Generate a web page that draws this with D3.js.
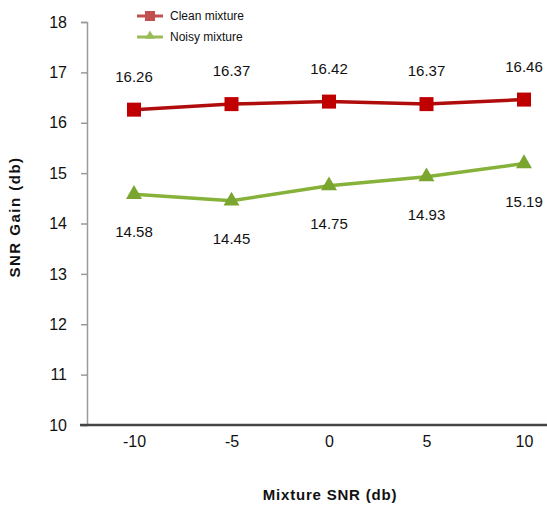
<!DOCTYPE html>
<html>
<head>
<meta charset="utf-8">
<script src="https://cdn.jsdelivr.net/npm/d3@7"></script>
<style>
  html, body { margin: 0; padding: 0; background: #fff; }
  svg { display: block; }
  text { font-family: "Liberation Sans Narrow", "Liberation Sans", Arial, sans-serif; fill: #111; }
</style>
</head>
<body>
<svg id="chart" width="547" height="508"></svg>
<script>
// Mixture SNR levels (db) along the x axis
const mixtureSnr = ["-10", "-5", "0", "5", "10"];
// SNR gain (db) for each mixture type
const cleanGain = [16.26, 16.37, 16.42, 16.37, 16.46];
const noisyGain = [14.58, 14.45, 14.75, 14.93, 15.19];
const yTicks = [10, 11, 12, 13, 14, 15, 16, 17, 18];
const seriesNames = ["Clean mixture", "Noisy mixture"];

const svg = d3.select("#chart");

const x = d3.scalePoint().domain(mixtureSnr).range([134, 524]);
const y = d3.scaleLinear().domain([10, 18]).range([425, 22]);

// y axis
const yAxis = svg.append("g").attr("transform", "translate(87,0)")
  .call(d3.axisLeft(y).tickValues(yTicks).tickSize(6).tickPadding(14).tickFormat(d3.format("d")));
yAxis.select(".domain").attr("stroke", "#9a9a9a").attr("stroke-width", 1.5);
yAxis.selectAll(".tick line").attr("stroke", "#9a9a9a").attr("stroke-width", 1.5);
yAxis.selectAll(".tick text").attr("font-size", 16).attr("fill", "#222");

// x axis
const xAxis = svg.append("g").attr("transform", "translate(0,425)")
  .call(d3.axisBottom(x).tickSize(0).tickPadding(11));
xAxis.select(".domain").remove();
svg.append("line").attr("x1", 80).attr("x2", 547).attr("y1", 425).attr("y2", 425)
  .attr("stroke", "#444").attr("stroke-width", 2.5);
xAxis.selectAll(".tick text").attr("font-size", 16).attr("fill", "#222");

// axis titles
svg.append("text").attr("x", 330).attr("y", 500).attr("text-anchor", "middle")
  .attr("font-size", 15).attr("font-weight", "bold").attr("letter-spacing", 0.8)
  .text("Mixture SNR (db)");
svg.append("text").attr("transform", "translate(20,217) rotate(-90)").attr("text-anchor", "middle")
  .attr("font-size", 15).attr("font-weight", "bold").attr("letter-spacing", 1.5)
  .text("SNR Gain (db)");

const line = d3.line().x((d, i) => x(mixtureSnr[i])).y(d => y(d));

// clean mixture series
const red = "#b00c0c";
svg.append("path").datum(cleanGain).attr("d", line)
  .attr("fill", "none").attr("stroke", red).attr("stroke-width", 3.5);
svg.selectAll(".clean-pt").data(cleanGain).enter().append("rect")
  .attr("x", (d, i) => x(mixtureSnr[i]) - 7).attr("y", d => y(d) - 7)
  .attr("width", 14).attr("height", 14).attr("fill", "#c00000");
svg.selectAll(".clean-lbl").data(cleanGain).enter().append("text")
  .attr("x", (d, i) => x(mixtureSnr[i])).attr("y", d => y(d) - 28)
  .attr("text-anchor", "middle").attr("font-size", 15).text(d => d.toFixed(2));

// noisy mixture series
const green = "#86b23a";
svg.append("path").datum(noisyGain).attr("d", line)
  .attr("fill", "none").attr("stroke", green).attr("stroke-width", 3.5);
svg.selectAll(".noisy-pt").data(noisyGain).enter().append("path")
  .attr("transform", (d, i) => `translate(${x(mixtureSnr[i])},${y(d)})`)
  .attr("d", d3.symbol(d3.symbolTriangle, 110)).attr("fill", "#7aa52e");
svg.selectAll(".noisy-lbl").data(noisyGain).enter().append("text")
  .attr("x", (d, i) => x(mixtureSnr[i])).attr("y", d => y(d) + 43)
  .attr("text-anchor", "middle").attr("font-size", 15).text(d => d.toFixed(2));

// legend
const legend = svg.append("g");
legend.append("line").attr("x1", 137).attr("x2", 163).attr("y1", 16).attr("y2", 16)
  .attr("stroke", "#c0504d").attr("stroke-width", 3);
legend.append("rect").attr("x", 145).attr("y", 11).attr("width", 10).attr("height", 10).attr("fill", "#c0504d");
legend.append("line").attr("x1", 137).attr("x2", 163).attr("y1", 37).attr("y2", 37)
  .attr("stroke", "#9bbb59").attr("stroke-width", 3);
legend.append("path").attr("transform", "translate(150,36)")
  .attr("d", d3.symbol(d3.symbolTriangle, 40)).attr("fill", "#9bbb59");
legend.append("text").attr("x", 170).attr("y", 20).attr("font-size", 12).attr("fill", "#333").text(seriesNames[0]);
legend.append("text").attr("x", 170).attr("y", 41).attr("font-size", 12).attr("fill", "#333").text(seriesNames[1]);
</script>
</body>
</html>
